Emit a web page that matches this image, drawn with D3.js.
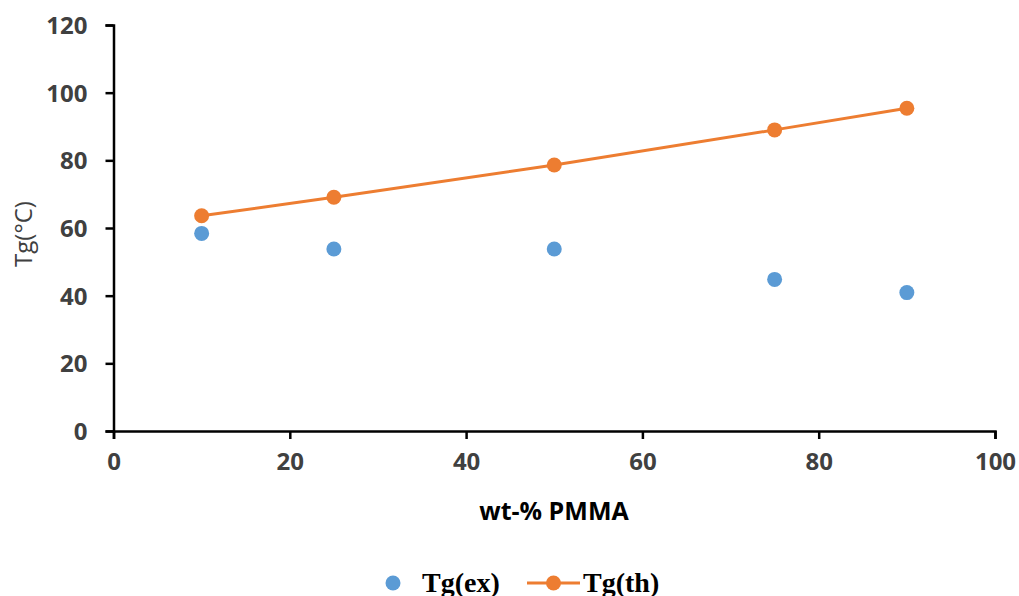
<!DOCTYPE html>
<html><head><meta charset="utf-8">
<script src="https://cdn.jsdelivr.net/npm/d3@7"></script>
<style>body{margin:0;background:#fff}svg{display:block}</style>
</head><body>
<svg id="c" width="1019" height="596"></svg>
<script>
const wtPMMA = [10, 25, 50, 75, 90];
const tgEx = [58.4, 53.8, 53.8, 44.8, 40.9];
const tgTh = [63.6, 69.1, 78.6, 89.0, 95.4];
const xTicks = [0, 20, 40, 60, 80, 100];
const yTicks = [0, 20, 40, 60, 80, 100, 120];
const seriesNames = ["Tg(ex)", "Tg(th)"];
const xTitle = "wt-% PMMA";
const yTitle = "Tg(°C)";

const svg = d3.select("#c");
const x = d3.scaleLinear().domain([0, 100]).range([113.5, 995]);
const y = d3.scaleLinear().domain([0, 120]).range([431, 25]);
const blue = "#5B9BD5", orange = "#ED7D31";
const tickFont = "'Open Sans', sans-serif";

const xa = svg.append("g").attr("transform", `translate(0,${y(0)})`)
  .call(d3.axisBottom(x).tickValues(xTicks).tickSize(8).tickPadding(14).tickFormat(d3.format("d")));
const ya = svg.append("g").attr("transform", `translate(${x(0)},0)`)
  .call(d3.axisLeft(y).tickValues(yTicks).tickSize(8).tickPadding(18).tickFormat(d3.format("d")));
[xa, ya].forEach(g => {
  g.select(".domain").attr("stroke", "#000").attr("stroke-width", 2.5);
  g.selectAll(".tick line").attr("stroke", "#000").attr("stroke-width", 2.5);
  g.selectAll(".tick text").attr("fill", "#404040").style("font-family", tickFont)
    .style("font-weight", "bold").style("font-size", "24px");
});
ya.selectAll(".tick text").attr("dy", "0.35em");

svg.append("text").attr("x", 554).attr("y", 520).attr("text-anchor", "middle")
  .style("font-family", tickFont).style("font-weight", "bold").style("font-size", "25px")
  .attr("fill", "#000").text(xTitle);
svg.append("text").attr("transform", "translate(32,234) rotate(-90)").attr("text-anchor", "middle")
  .style("font-family", tickFont).style("font-size", "24px").attr("fill", "#404040").text(yTitle);

const line = d3.line().x((d, i) => x(wtPMMA[i])).y(d => y(d));
svg.append("path").datum(tgTh).attr("d", line).attr("fill", "none")
  .attr("stroke", orange).attr("stroke-width", 3);
svg.append("g").selectAll("circle").data(tgTh).join("circle")
  .attr("cx", (d, i) => x(wtPMMA[i])).attr("cy", d => y(d)).attr("r", 7.5).attr("fill", orange);
svg.append("g").selectAll("circle").data(tgEx).join("circle")
  .attr("cx", (d, i) => x(wtPMMA[i])).attr("cy", d => y(d)).attr("r", 7.5).attr("fill", blue);

// legend
const lg = svg.append("g");
lg.append("circle").attr("cx", 393).attr("cy", 583).attr("r", 7.5).attr("fill", blue);
lg.append("text").attr("x", 422).attr("y", 592)
  .style("font-family", "'Liberation Serif', serif").style("font-weight", "bold").style("font-size", "28px")
  .attr("fill", "#000").text(seriesNames[0]);
lg.append("line").attr("x1", 527).attr("x2", 580).attr("y1", 583).attr("y2", 583)
  .attr("stroke", orange).attr("stroke-width", 3);
lg.append("circle").attr("cx", 553.5).attr("cy", 583).attr("r", 7.5).attr("fill", orange);
lg.append("text").attr("x", 583).attr("y", 592)
  .style("font-family", "'Liberation Serif', serif").style("font-weight", "bold").style("font-size", "28px")
  .attr("fill", "#000").text(seriesNames[1]);
</script>
</body></html>
